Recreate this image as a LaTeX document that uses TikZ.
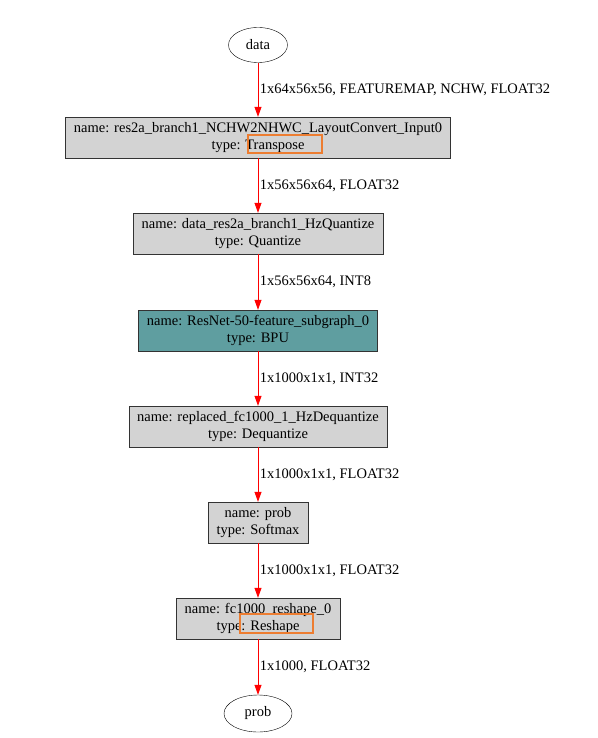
\documentclass[tikz,border=0pt]{standalone}
\usepackage{fontspec}
\setmainfont{Liberation Serif}
\usepackage{xcolor}
\usetikzlibrary{positioning,arrows.meta,shapes.geometric}

\definecolor{boxgray}{HTML}{D3D3D3}
\definecolor{cadet}{HTML}{5F9EA0}
\definecolor{hlorange}{HTML}{ED7D31}

\tikzset{
    lbl/.style={font=\fontsize{14.5}{17.5}\selectfont},
    op/.style={lbl, draw=black!80, fill=boxgray, rectangle, align=center, inner xsep=8.5pt,
        minimum height=41pt},
    io/.style={lbl, draw=black, ellipse, minimum width=59pt, minimum height=35pt},
    edge/.style={red, line width=0.8pt, -{Triangle[length=10pt,width=7pt]}},
    hl/.style={draw=hlorange, line width=1.3pt},
}

\begin{document}
\begin{tikzpicture}[x=1pt,y=-1pt]
\useasboundingbox (0,0) rectangle (597,738);

% Nodes
\node[io] (data) at (258,45) {data};
\node[op] (transpose) at (258,137.5) {name: res2a\_branch1\_NCHW2NHWC\_LayoutConvert\_Input0\\type: Transpose};
\node[op] (quantize) at (258,233.5) {name: data\_res2a\_branch1\_HzQuantize\\type: Quantize};
\node[op, fill=cadet] (bpu) at (258,330.5) {name: ResNet-50-feature\_subgraph\_0\\type: BPU};
\node[op] (dequantize) at (258,426.5) {name: replaced\_fc1000\_1\_HzDequantize\\type: Dequantize};
\node[op] (softmax) at (258,522.5) {name: prob\\type: Softmax};
\node[op] (reshape) at (258,618.5) {name: fc1000\_reshape\_0\\type: Reshape};
\node[io, minimum width=68pt, minimum height=37pt] (prob) at (258,713.5) {prob};

% Edges
\foreach \a/\b/\l in {data/transpose/{1x64x56x56, FEATUREMAP, NCHW, FLOAT32},
                      transpose/quantize/{1x56x56x64, FLOAT32},
                      quantize/bpu/{1x56x56x64, INT8},
                      bpu/dequantize/{1x1000x1x1, INT32},
                      dequantize/softmax/{1x1000x1x1, FLOAT32},
                      softmax/reshape/{1x1000x1x1, FLOAT32},
                      reshape/prob/{1x1000, FLOAT32}}
    \draw[edge] (\a) -- (\b) node[midway, right, black, lbl, inner xsep=1.5pt] {\l};

% Highlights
\draw[hl] (248,135) rectangle (322,153);
\draw[hl] (240,614) rectangle (313,633);
\end{tikzpicture}
\end{document}
